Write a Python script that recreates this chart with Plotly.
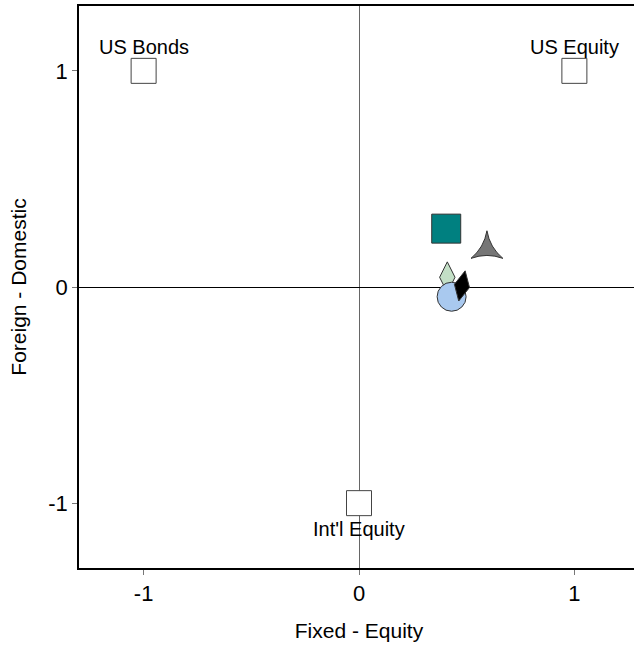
import plotly.graph_objects as go

# Reference corners
ref_names = ["US Bonds", "US Equity", "Int'l Equity"]
ref_x = [-1, 1, 0]
ref_y = [1, 1, -1]
ref_label_shift = [24, 24, -26]

# Portfolio points
pt_x = [0.405, 0.594, 0.41, 0.43, 0.478]
pt_y = [0.27, 0.175, 0.045, -0.045, 0.005]
pt_symbols = ["square", "star-triangle-up", "diamond-tall", "circle", "diamond-tall"]
pt_colors = ["#008080", "#767676", "#c3dfc6", "#a9c9ef", "#000000"]
pt_sizes = [29, 23, 22, 29, 22]
pt_angles = [0, 0, 0, 0, 12]

tick_vals = [-1, 0, 1]
tick_text = ["-1", "0", "1"]
x_range = [-1.3, 1.3]
y_range = [-1.3, 1.3]

FONT = "Liberation Sans, Arial, sans-serif"

fig = go.Figure()

fig.add_trace(go.Scatter(
    x=ref_x, y=ref_y, mode="markers",
    marker=dict(symbol="square", size=25, color="white",
                line=dict(color="#444444", width=1)),
    hoverinfo="skip", showlegend=False, cliponaxis=False,
))

for i in range(len(pt_x)):
    fig.add_trace(go.Scatter(
        x=[pt_x[i]], y=[pt_y[i]], mode="markers",
        marker=dict(symbol=pt_symbols[i], size=pt_sizes[i], color=pt_colors[i],
                    angle=pt_angles[i],
                    line=dict(color="#333333", width=1)),
        showlegend=False,
    ))

for n, x, y, s in zip(ref_names, ref_x, ref_y, ref_label_shift):
    fig.add_annotation(x=x, y=y, text=n, showarrow=False, yshift=s,
                       font=dict(family=FONT, size=20, color="black"))

axis_common = dict(
    tickvals=tick_vals, ticktext=tick_text,
    showgrid=False, showline=True, linecolor="black", linewidth=1.5,
    ticks="outside", ticklen=5, tickcolor="#777777", tickwidth=1,
    tickfont=dict(family=FONT, size=22, color="black"),
    zeroline=True, zerolinewidth=1, automargin=False,
)

fig.update_xaxes(**axis_common, range=x_range, mirror=True, zerolinecolor="#666666",
                 title=dict(text="Fixed - Equity", font=dict(family=FONT, size=21, color="black"),
                            standoff=18))
fig.update_yaxes(**axis_common, range=y_range, mirror=False, zerolinecolor="black",
                 title=dict(text="Foreign - Domestic", font=dict(family=FONT, size=21, color="black"),
                            standoff=16))

fig.update_layout(
    width=640, height=647,
    margin=dict(l=79, r=1, t=6, b=79),
    plot_bgcolor="white", paper_bgcolor="white",
    font=dict(family=FONT),
)

fig.write_html(
    "out.html", config={"displayModeBar": False},
    post_script="document.body.style.margin='0';"
                "document.body.style.overflow='hidden';"
                "document.documentElement.style.overflow='hidden';",
)
